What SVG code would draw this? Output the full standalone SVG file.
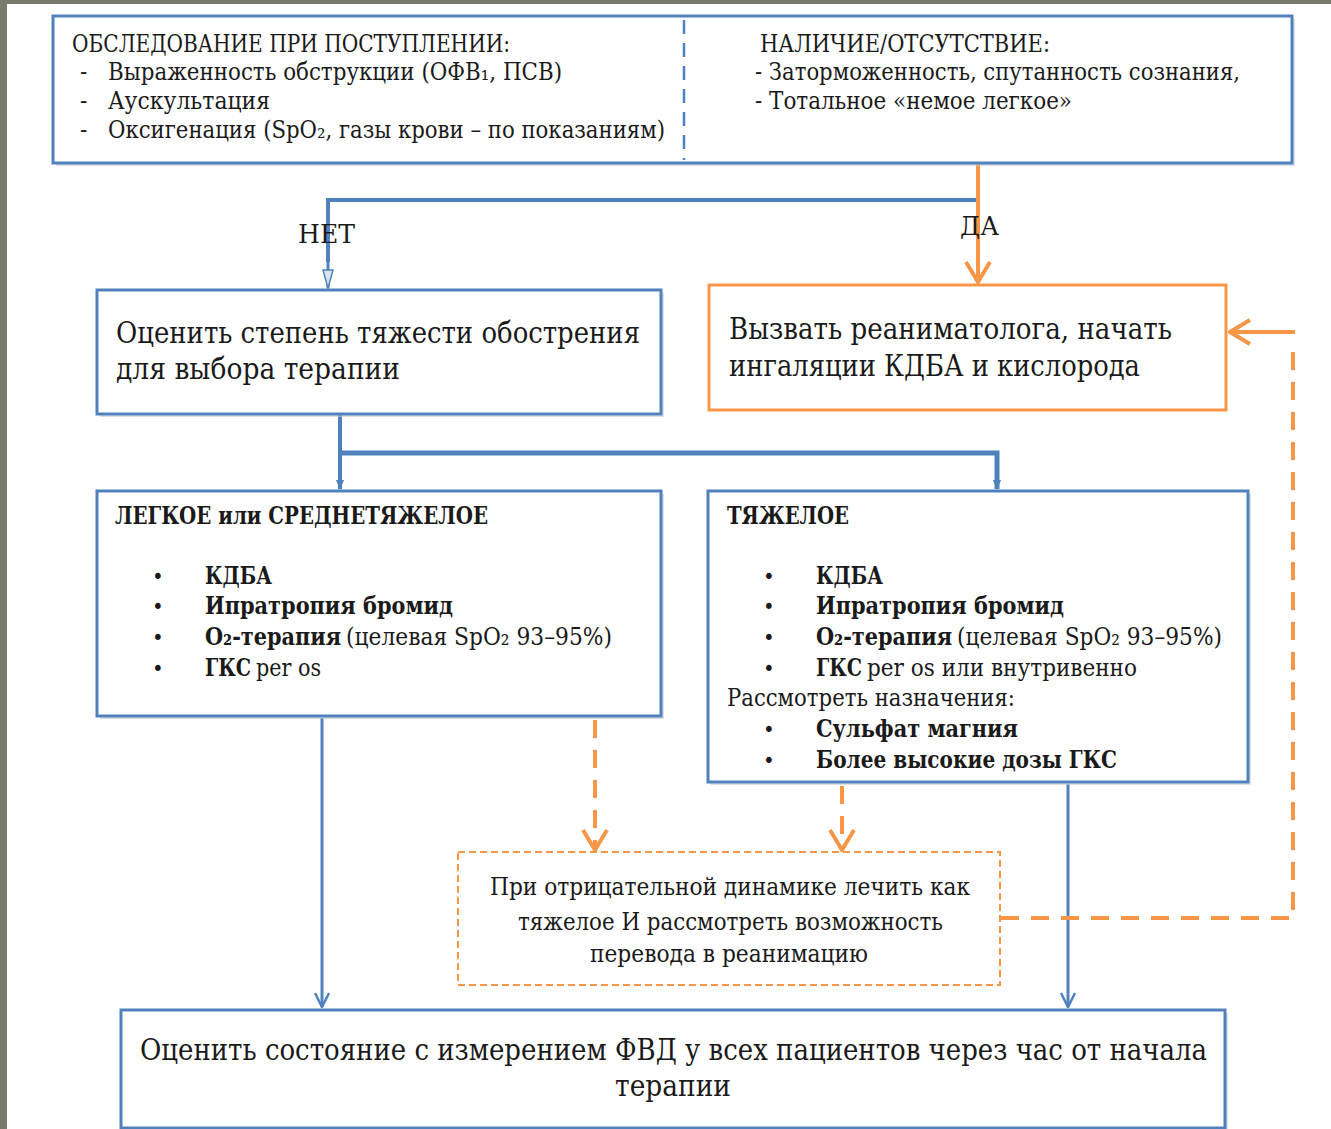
<svg xmlns="http://www.w3.org/2000/svg" width="1331" height="1129" viewBox="0 0 1331 1129">
<style>
  text { font-family: 'DejaVu Serif Condensed', 'DejaVu Serif', serif; font-stretch: condensed; fill: #1a1a1a; }
  .box { fill: #ffffff; stroke: #4F81BD; stroke-width: 3; }
  .obox { fill: #ffffff; stroke: #F79646; stroke-width: 3; }
  .dbox { fill: #ffffff; stroke: #F79646; stroke-width: 2; stroke-dasharray: 7 4; }
  .shadow { fill: #c8ccd4; opacity: 0.6; }
  .bl { stroke: #4F81BD; fill: none; }
  .or { stroke: #F79646; fill: none; }
  .ordash { stroke: #F79646; fill: none; stroke-width: 4; stroke-dasharray: 18 12; }
  .s22 { font-size: 24px; }
  .s23 { font-size: 25px; }
  .s27 { font-size: 29px; }
  .b { font-weight: bold; }
  .bul { font-size: 22px; font-family: 'DejaVu Sans', sans-serif; }
</style>
<defs>
  <marker id="blTri" viewBox="0 0 10 10" refX="9" refY="5" markerWidth="10" markerHeight="10" markerUnits="userSpaceOnUse" orient="auto">
    <path d="M0,1 L10,5 L0,9 Z" fill="#4F81BD"/>
  </marker>
  <marker id="blOpenTri" viewBox="0 0 20 12" refX="19" refY="6" markerWidth="20" markerHeight="12" markerUnits="userSpaceOnUse" orient="auto">
    <path d="M1,1 L19,6 L1,11 Z" fill="#dbe5f1" stroke="#4F81BD" stroke-width="1.5"/>
  </marker>
  <marker id="blChev" viewBox="0 0 16 16" refX="15" refY="8" markerWidth="16" markerHeight="16" markerUnits="userSpaceOnUse" orient="auto">
    <path d="M1,1 L15,8 L1,15" fill="none" stroke="#4F81BD" stroke-width="2.5"/>
  </marker>
  <marker id="orChev" viewBox="0 0 24 28" refX="22" refY="14" markerWidth="24" markerHeight="28" markerUnits="userSpaceOnUse" orient="auto">
    <path d="M2,2 L22,14 L2,26" fill="none" stroke="#F79646" stroke-width="4"/>
  </marker>
</defs>

<!-- background -->
<rect x="0" y="0" width="1331" height="1129" fill="#7a7b6e"/>
<rect x="7" y="4" width="1324" height="1125" fill="#ffffff"/>

<!-- connectors -->
<g id="connectors">
  <polyline class="bl" stroke-width="4" points="978,200 328,200 328,262"/>
  <line class="bl" stroke-width="3" x1="328" y1="260" x2="328" y2="288" marker-end="url(#blOpenTri)"/>
  <line class="or" stroke-width="4" x1="978" y1="164" x2="978" y2="282" marker-end="url(#orChev)"/>
  <line class="bl" stroke-width="4" x1="340" y1="415" x2="340" y2="489" marker-end="url(#blTri)"/>
  <polyline class="bl" stroke-width="5" points="340,453 997,453 997,489" marker-end="url(#blTri)"/>
  <line class="bl" stroke-width="3" x1="322" y1="718" x2="322" y2="1007" marker-end="url(#blChev)"/>
  <line class="bl" stroke-width="3" x1="1068" y1="784" x2="1068" y2="1007" marker-end="url(#blChev)"/>
  <line class="ordash" x1="595" y1="720" x2="595" y2="850" stroke-dasharray="18 12" marker-end="url(#orChev)"/>
  <line class="ordash" x1="842" y1="786" x2="842" y2="850" stroke-dasharray="14 10" marker-end="url(#orChev)"/>
  <polyline class="ordash" points="1001,918 1293,918 1293,345"/>
  <line class="or" stroke-width="4" x1="1295" y1="332" x2="1230" y2="332" marker-end="url(#orChev)"/>
  <line class="bl" stroke-width="3" x1="710" y1="1126" x2="710" y2="1129"/>
</g>

<text x="298" y="243" font-size="26" textLength="57" lengthAdjust="spacingAndGlyphs">НЕТ</text>
<text x="960" y="235" font-size="26" textLength="39" lengthAdjust="spacingAndGlyphs">ДА</text>

<g id="node-top">
  <rect class="shadow" x="56" y="19" width="1239" height="147"/>
  <rect class="box" x="53" y="16" width="1239" height="147"/>
  <line x1="684" y1="20" x2="684" y2="160" stroke="#4F81BD" stroke-width="2.5" stroke-dasharray="14 9"/>
  <text class="s22" x="72" y="52" textLength="438" lengthAdjust="spacingAndGlyphs">ОБСЛЕДОВАНИЕ ПРИ ПОСТУПЛЕНИИ:</text>
  <text class="s22" x="80" y="80">-</text>
  <text class="s22" x="108" y="80" textLength="454" lengthAdjust="spacingAndGlyphs">Выраженность обструкции (ОФВ₁, ПСВ)</text>
  <text class="s22" x="80" y="109">-</text>
  <text class="s22" x="108" y="109" textLength="162" lengthAdjust="spacingAndGlyphs">Аускультация</text>
  <text class="s22" x="80" y="138">-</text>
  <text class="s22" x="108" y="138" textLength="557" lengthAdjust="spacingAndGlyphs">Оксигенация (SpO₂, газы крови – по показаниям)</text>
  <text class="s22" x="760" y="52" textLength="290" lengthAdjust="spacingAndGlyphs">НАЛИЧИЕ/ОТСУТСТВИЕ:</text>
  <text class="s22" x="755" y="80" textLength="485" lengthAdjust="spacingAndGlyphs">- Заторможенность, спутанность сознания,</text>
  <text class="s22" x="755" y="109" textLength="317" lengthAdjust="spacingAndGlyphs">- Тотальное «немое легкое»</text>
</g>

<g id="node-severity">
  <rect class="shadow" x="100" y="293" width="564" height="124"/>
  <rect class="box" x="97" y="290" width="564" height="124"/>
  <text class="s27" x="116" y="343" textLength="524" lengthAdjust="spacingAndGlyphs">Оценить степень тяжести обострения</text>
  <text class="s27" x="116" y="379" textLength="284" lengthAdjust="spacingAndGlyphs">для выбора терапии</text>
</g>

<g id="node-reanimation">
  <rect class="obox" x="709" y="285" width="517" height="125"/>
  <text class="s27" x="729" y="339" textLength="443" lengthAdjust="spacingAndGlyphs">Вызвать реаниматолога, начать</text>
  <text class="s27" x="729" y="376" textLength="411" lengthAdjust="spacingAndGlyphs">ингаляции КДБА и кислорода</text>
</g>

<g id="node-mild">
  <rect class="shadow" x="100" y="494" width="564" height="225"/>
  <rect class="box" x="97" y="491" width="564" height="225"/>
  <text class="s22 b" x="115" y="524" textLength="373" lengthAdjust="spacingAndGlyphs">ЛЕГКОЕ или СРЕДНЕТЯЖЕЛОЕ</text>
  <text class="bul" x="152" y="584">•</text>
  <text class="s23 b" x="205" y="584" textLength="67" lengthAdjust="spacingAndGlyphs">КДБА</text>
  <text class="bul" x="152" y="614">•</text>
  <text class="s23 b" x="205" y="614" textLength="248" lengthAdjust="spacingAndGlyphs">Ипратропия бромид</text>
  <text class="bul" x="152" y="645">•</text>
  <text class="s23 b" x="205" y="645" textLength="136" lengthAdjust="spacingAndGlyphs">O₂-терапия</text>
  <text class="s23" x="346" y="645" textLength="266" lengthAdjust="spacingAndGlyphs">(целевая SpO₂ 93–95%)</text>
  <text class="bul" x="152" y="676">•</text>
  <text class="s23 b" x="205" y="676" textLength="46" lengthAdjust="spacingAndGlyphs">ГКС</text>
  <text class="s23" x="256" y="676" textLength="65" lengthAdjust="spacingAndGlyphs">per os</text>
</g>

<g id="node-severe">
  <rect class="shadow" x="711" y="494" width="540" height="291"/>
  <rect class="box" x="708" y="491" width="540" height="291"/>
  <text class="s22 b" x="727" y="524" textLength="122" lengthAdjust="spacingAndGlyphs">ТЯЖЕЛОЕ</text>
  <text class="bul" x="763" y="584">•</text>
  <text class="s23 b" x="816" y="584" textLength="67" lengthAdjust="spacingAndGlyphs">КДБА</text>
  <text class="bul" x="763" y="614">•</text>
  <text class="s23 b" x="816" y="614" textLength="248" lengthAdjust="spacingAndGlyphs">Ипратропия бромид</text>
  <text class="bul" x="763" y="645">•</text>
  <text class="s23 b" x="816" y="645" textLength="136" lengthAdjust="spacingAndGlyphs">O₂-терапия</text>
  <text class="s23" x="957" y="645" textLength="265" lengthAdjust="spacingAndGlyphs">(целевая SpO₂ 93–95%)</text>
  <text class="bul" x="763" y="676">•</text>
  <text class="s23 b" x="816" y="676" textLength="46" lengthAdjust="spacingAndGlyphs">ГКС</text>
  <text class="s23" x="867" y="676" textLength="270" lengthAdjust="spacingAndGlyphs">per os или внутривенно</text>
  <text class="s22" x="727" y="706" textLength="288" lengthAdjust="spacingAndGlyphs">Рассмотреть назначения:</text>
  <text class="bul" x="763" y="737">•</text>
  <text class="s23 b" x="816" y="737" textLength="202" lengthAdjust="spacingAndGlyphs">Сульфат магния</text>
  <text class="bul" x="763" y="768">•</text>
  <text class="s23 b" x="816" y="768" textLength="301" lengthAdjust="spacingAndGlyphs">Более высокие дозы ГКС</text>
</g>

<g id="node-negative">
  <rect class="dbox" x="458" y="852" width="542" height="133"/>
  <text class="s22" x="490" y="895" textLength="480" lengthAdjust="spacingAndGlyphs">При отрицательной динамике лечить как</text>
  <text class="s22" x="518" y="930" textLength="425" lengthAdjust="spacingAndGlyphs">тяжелое И рассмотреть возможность</text>
  <text class="s22" x="590" y="962" textLength="278" lengthAdjust="spacingAndGlyphs">перевода в реанимацию</text>
</g>

<g id="node-bottom">
  <rect class="shadow" x="124" y="1013" width="1104" height="118"/>
  <rect class="box" x="121" y="1010" width="1104" height="118"/>
  <text class="s27" x="140" y="1060" textLength="1067" lengthAdjust="spacingAndGlyphs">Оценить состояние с измерением ФВД у всех пациентов через час от начала</text>
  <text class="s27" x="615" y="1096" textLength="116" lengthAdjust="spacingAndGlyphs">терапии</text>
</g>
</svg>
